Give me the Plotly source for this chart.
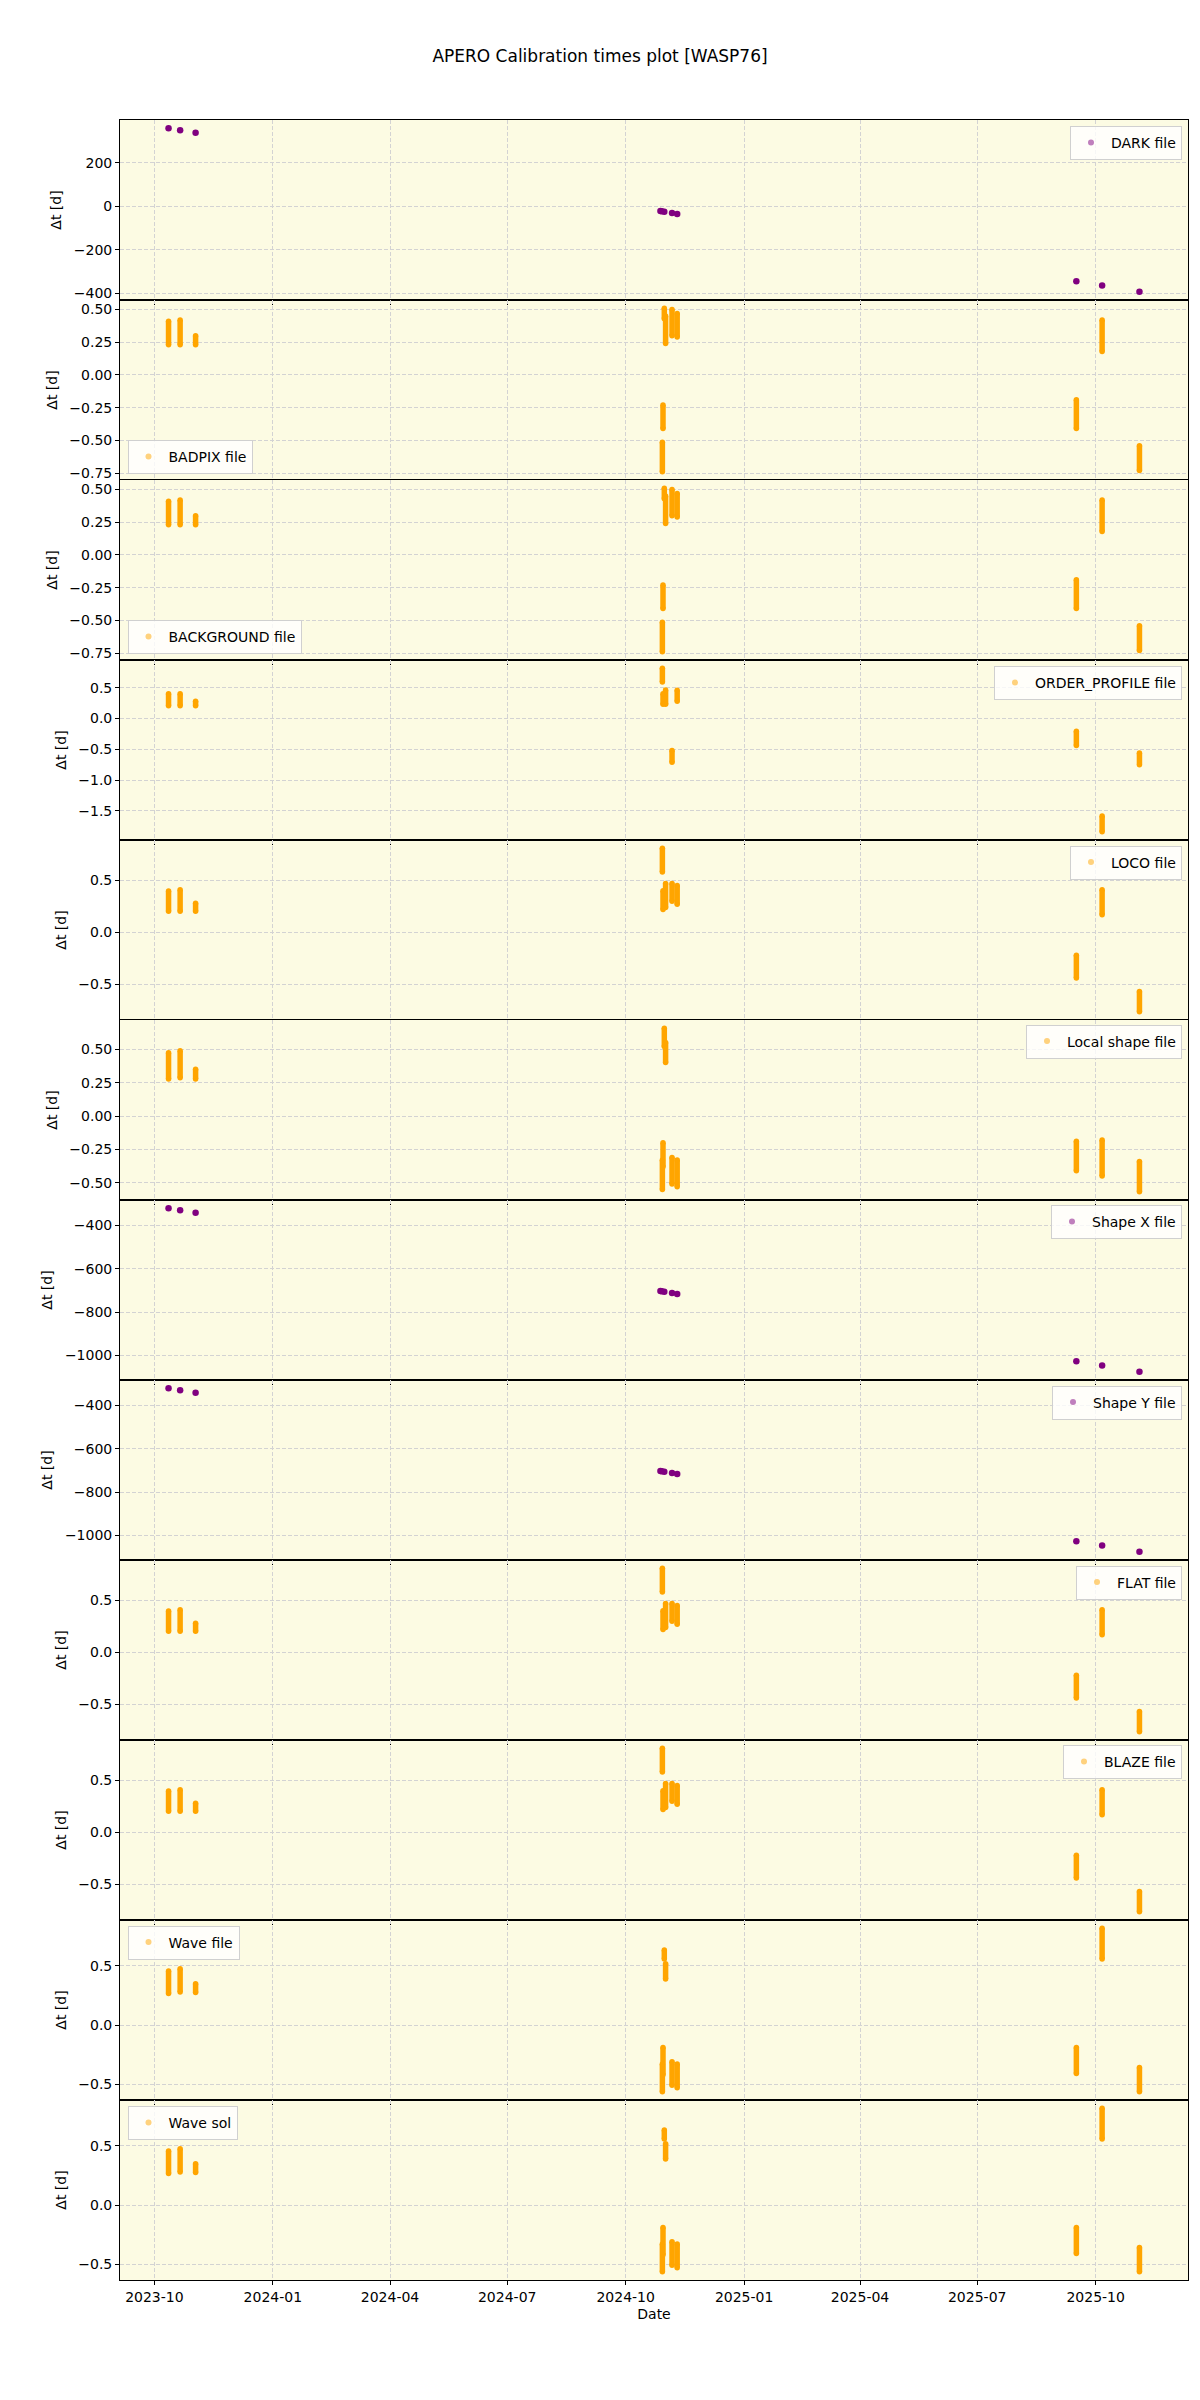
import pandas as pd
import plotly.graph_objects as go
from plotly.subplots import make_subplots

# ---------------- data ----------------
# point-type calibrations (purple)
dark_dates = ['2023-10-12', '2023-10-21', '2023-11-02', '2024-10-28', '2024-10-29',
              '2024-10-31', '2024-11-06', '2024-11-10', '2025-09-16', '2025-10-06', '2025-11-04']
dark_dt = [360, 351, 339, -22, -23, -25, -31, -35, -345, -365, -394]

shapex_dates = dark_dates
shapex_dt = [-321, -330, -342, -703, -704, -706, -712, -716, -1026, -1046, -1075]

shapey_dates = dark_dates
shapey_dt = [-321, -330, -342, -703, -704, -706, -712, -716, -1026, -1046, -1075]

# bar-type calibrations (orange): each night spans lo..hi
badpix_dates = ['2023-10-12', '2023-10-21', '2023-11-02', '2024-10-29 12:00', '2024-10-30',
                '2024-10-31', '2024-11-01', '2024-11-06', '2024-11-10',
                '2025-09-16', '2025-10-06', '2025-11-04']
badpix_lo = [0.23, 0.23, 0.23, -0.74, -0.41, 0.43, 0.24, 0.30, 0.29, -0.41, 0.18, -0.73]
badpix_hi = [0.41, 0.42, 0.30, -0.515, -0.23, 0.51, 0.45, 0.50, 0.47, -0.19, 0.42, -0.54]

background_dates = badpix_dates
background_lo = [0.23, 0.23, 0.23, -0.74, -0.41, 0.43, 0.24, 0.30, 0.29, -0.41, 0.18, -0.73]
background_hi = [0.41, 0.42, 0.30, -0.515, -0.23, 0.51, 0.45, 0.50, 0.47, -0.19, 0.42, -0.54]

order_dates = ['2023-10-12', '2023-10-21', '2023-11-02', '2024-10-29 12:00', '2024-10-30',
               '2024-11-01', '2024-11-06', '2024-11-10',
               '2025-09-16', '2025-10-06', '2025-11-04']
order_lo = [0.205, 0.205, 0.205, 0.59, 0.23, 0.23, -0.71, 0.28, -0.44, -1.84, -0.75]
order_hi = [0.40, 0.40, 0.28, 0.815, 0.40, 0.46, -0.52, 0.455, -0.21, -1.585, -0.56]

loco_dates = order_dates
loco_lo = [0.204, 0.204, 0.204, 0.58, 0.22, 0.24, 0.30, 0.27, -0.44, 0.17, -0.765]
loco_hi = [0.398, 0.41, 0.279, 0.81, 0.40, 0.47, 0.47, 0.45, -0.22, 0.41, -0.57]

lshape_dates = ['2023-10-12', '2023-10-21', '2023-11-02', '2024-10-29 12:00', '2024-10-30',
                '2024-10-31', '2024-11-01', '2024-11-06', '2024-11-10',
                '2025-09-16', '2025-10-06', '2025-11-04']
lshape_lo = [0.277, 0.286, 0.277, -0.55, -0.38, 0.52, 0.40, -0.51, -0.53, -0.41, -0.45, -0.568]
lshape_hi = [0.473, 0.489, 0.35, -0.33, -0.20, 0.658, 0.55, -0.31, -0.33, -0.19, -0.18, -0.34]

flat_dates = order_dates
flat_lo = [0.204, 0.204, 0.204, 0.58, 0.22, 0.24, 0.30, 0.27, -0.44, 0.17, -0.765]
flat_hi = [0.398, 0.41, 0.279, 0.81, 0.40, 0.47, 0.47, 0.45, -0.22, 0.41, -0.57]

blaze_dates = order_dates
blaze_lo = [0.204, 0.204, 0.204, 0.58, 0.22, 0.24, 0.30, 0.27, -0.44, 0.17, -0.765]
blaze_hi = [0.398, 0.41, 0.279, 0.81, 0.40, 0.47, 0.47, 0.45, -0.22, 0.41, -0.57]

wavefile_dates = lshape_dates
wavefile_lo = [0.268, 0.28, 0.275, -0.565, -0.42, 0.56, 0.39, -0.51, -0.53, -0.41, 0.56, -0.565]
wavefile_hi = [0.458, 0.477, 0.35, -0.33, -0.19, 0.635, 0.52, -0.31, -0.33, -0.19, 0.82, -0.36]

wavesol_dates = lshape_dates
wavesol_lo = [0.268, 0.28, 0.275, -0.565, -0.42, 0.56, 0.39, -0.51, -0.53, -0.41, 0.56, -0.565]
wavesol_hi = [0.458, 0.477, 0.35, -0.33, -0.19, 0.635, 0.52, -0.31, -0.33, -0.19, 0.82, -0.36]

panel_names = ['DARK file', 'BADPIX file', 'BACKGROUND file', 'ORDER_PROFILE file', 'LOCO file',
               'Local shape file', 'Shape X file', 'Shape Y file', 'FLAT file', 'BLAZE file',
               'Wave file', 'Wave sol']
y_ticks = [[-400, -200, 0, 200],
           [-0.75, -0.5, -0.25, 0, 0.25, 0.5],
           [-0.75, -0.5, -0.25, 0, 0.25, 0.5],
           [-1.5, -1.0, -0.5, 0, 0.5],
           [-0.5, 0, 0.5],
           [-0.5, -0.25, 0, 0.25, 0.5],
           [-1000, -800, -600, -400],
           [-1000, -800, -600, -400],
           [-0.5, 0, 0.5],
           [-0.5, 0, 0.5],
           [-0.5, 0, 0.5],
           [-0.5, 0, 0.5]]
y_formats = ['d', '.2f', '.2f', '.1f', '.1f', '.2f', 'd', 'd', '.1f', '.1f', '.1f', '.1f']

# ---------------- figure ----------------
PURPLE = 'purple'
ORANGE = 'orange'
FONT = 'DejaVu Sans'

panels = [
    ('pt', dark_dates, dark_dt, None),
    ('bar', badpix_dates, badpix_lo, badpix_hi),
    ('bar', background_dates, background_lo, background_hi),
    ('bar', order_dates, order_lo, order_hi),
    ('bar', loco_dates, loco_lo, loco_hi),
    ('bar', lshape_dates, lshape_lo, lshape_hi),
    ('pt', shapex_dates, shapex_dt, None),
    ('pt', shapey_dates, shapey_dt, None),
    ('bar', flat_dates, flat_lo, flat_hi),
    ('bar', blaze_dates, blaze_lo, blaze_hi),
    ('bar', wavefile_dates, wavefile_lo, wavefile_hi),
    ('bar', wavesol_dates, wavesol_lo, wavesol_hi),
]

N = 12
fig = make_subplots(rows=N, cols=1, shared_xaxes=True, vertical_spacing=0)

# plot-area geometry in pixels (for legend placement)
L, R, T, B = 120, 1188, 120, 2280
W, H = R - L, B - T


def px_x(p):
    return (p - L) / W


def px_y(p):
    return (B - p) / H


legend_pos = [
    ('right', 'top', 1182, 126),
    ('left', 'bottom', 127.5, 474),
    ('left', 'bottom', 127.5, 654),
    ('right', 'top', 1182, 666),
    ('right', 'top', 1182, 845.5),
    ('right', 'top', 1182, 1024.5),
    ('right', 'top', 1182, 1205),
    ('right', 'top', 1182, 1385.5),
    ('right', 'top', 1182, 1565.5),
    ('right', 'top', 1182, 1745),
    ('left', 'top', 127.5, 1925.5),
    ('left', 'top', 127.5, 2106),
]

all_dates = []
layout_extra = {}
for i, (kind, dates, a, b) in enumerate(panels):
    row = i + 1
    lname = 'legend' if row == 1 else f'legend{row}'
    all_dates += list(dates)
    if kind == 'pt':
        color = PURPLE
        fig.add_trace(go.Scatter(x=dates, y=a, mode='markers',
                                 marker=dict(color=color, size=6.5, line=dict(width=0)),
                                 showlegend=False, hoverinfo='skip'), row=row, col=1)
        vmin, vmax = min(a), max(a)
    else:
        color = ORANGE
        xs, ys = [], []
        for d, lo, hi in zip(dates, a, b):
            xs += [d, d, None]
            ys += [lo, hi, None]
        fig.add_trace(go.Scatter(x=xs, y=ys, mode='lines+markers',
                                 line=dict(color=color, width=5.5),
                                 marker=dict(color=color, size=5.5, line=dict(width=0)),
                                 connectgaps=False, showlegend=False, hoverinfo='skip'),
                      row=row, col=1)
        vmin, vmax = min(a), max(b)
    # legend-only entry (light, like matplotlib alpha)
    fig.add_trace(go.Scatter(x=[None], y=[None], mode='markers', name=panel_names[i],
                             marker=dict(color=color, size=6, opacity=0.5),
                             legend=lname, showlegend=True), row=row, col=1)
    span = vmax - vmin
    fig.update_yaxes(range=[vmin - 0.05 * span, vmax + 0.05 * span],
                     tickvals=y_ticks[i], tickformat=y_formats[i],
                     title=dict(text='Δt [d]', font=dict(size=14, family=FONT, color='black'),
                                standoff=8),
                     row=row, col=1)
    xa, ya, xp, yp = legend_pos[i]
    layout_extra[lname] = dict(
        x=px_x(xp), y=px_y(yp), xanchor=xa, yanchor=ya, xref='paper', yref='paper',
        bgcolor='rgba(255,255,255,0.8)', bordercolor='#d0d0d0', borderwidth=1,
        font=dict(size=14, family=FONT, color='black'), itemwidth=30,
    )

# x range with matplotlib-like 5% margins
ts = pd.to_datetime(pd.Series(all_dates), format='ISO8601')
tmin, tmax = ts.min(), ts.max()
pad = (tmax - tmin) * 0.05
xr = [(tmin - pad).strftime('%Y-%m-%d %H:%M:%S'), (tmax + pad).strftime('%Y-%m-%d %H:%M:%S')]

fig.update_xaxes(type='date', range=xr, dtick='M3', tick0='2023-01-01', tickformat='%Y-%m',
                 showgrid=True, gridcolor='#d3d3d3', griddash='4px,2px', gridwidth=1,
                 showline=True, linecolor='black', linewidth=0.9, mirror=True,
                 ticks='outside', ticklen=4, tickwidth=1, tickcolor='black',
                 tickfont=dict(size=14, family=FONT, color='black'), zeroline=False)
fig.update_xaxes(title=dict(text='Date', font=dict(size=14, family=FONT, color='black'), standoff=5),
                 row=N, col=1)
fig.update_yaxes(showgrid=True, gridcolor='#d3d3d3', griddash='4px,2px', gridwidth=1,
                 showline=True, linecolor='black', linewidth=0.9, mirror=True,
                 ticks='outside', ticklen=4, tickwidth=1, tickcolor='black',
                 tickfont=dict(size=14, family=FONT, color='black'), zeroline=False)

fig.update_layout(
    width=1200, height=2400,
    margin=dict(l=L, r=1200 - R, t=T, b=2400 - B),
    paper_bgcolor='white', plot_bgcolor='#FCFBE3',
    font=dict(family=FONT, size=14, color='black'),
    title=dict(text='APERO Calibration times plot [WASP76]', x=0.5, xanchor='center',
               y=1 - 56 / 2400, yanchor='middle', font=dict(size=17, family=FONT, color='black')),
    showlegend=True,
    **layout_extra,
)

fig.write_html('out.html')
